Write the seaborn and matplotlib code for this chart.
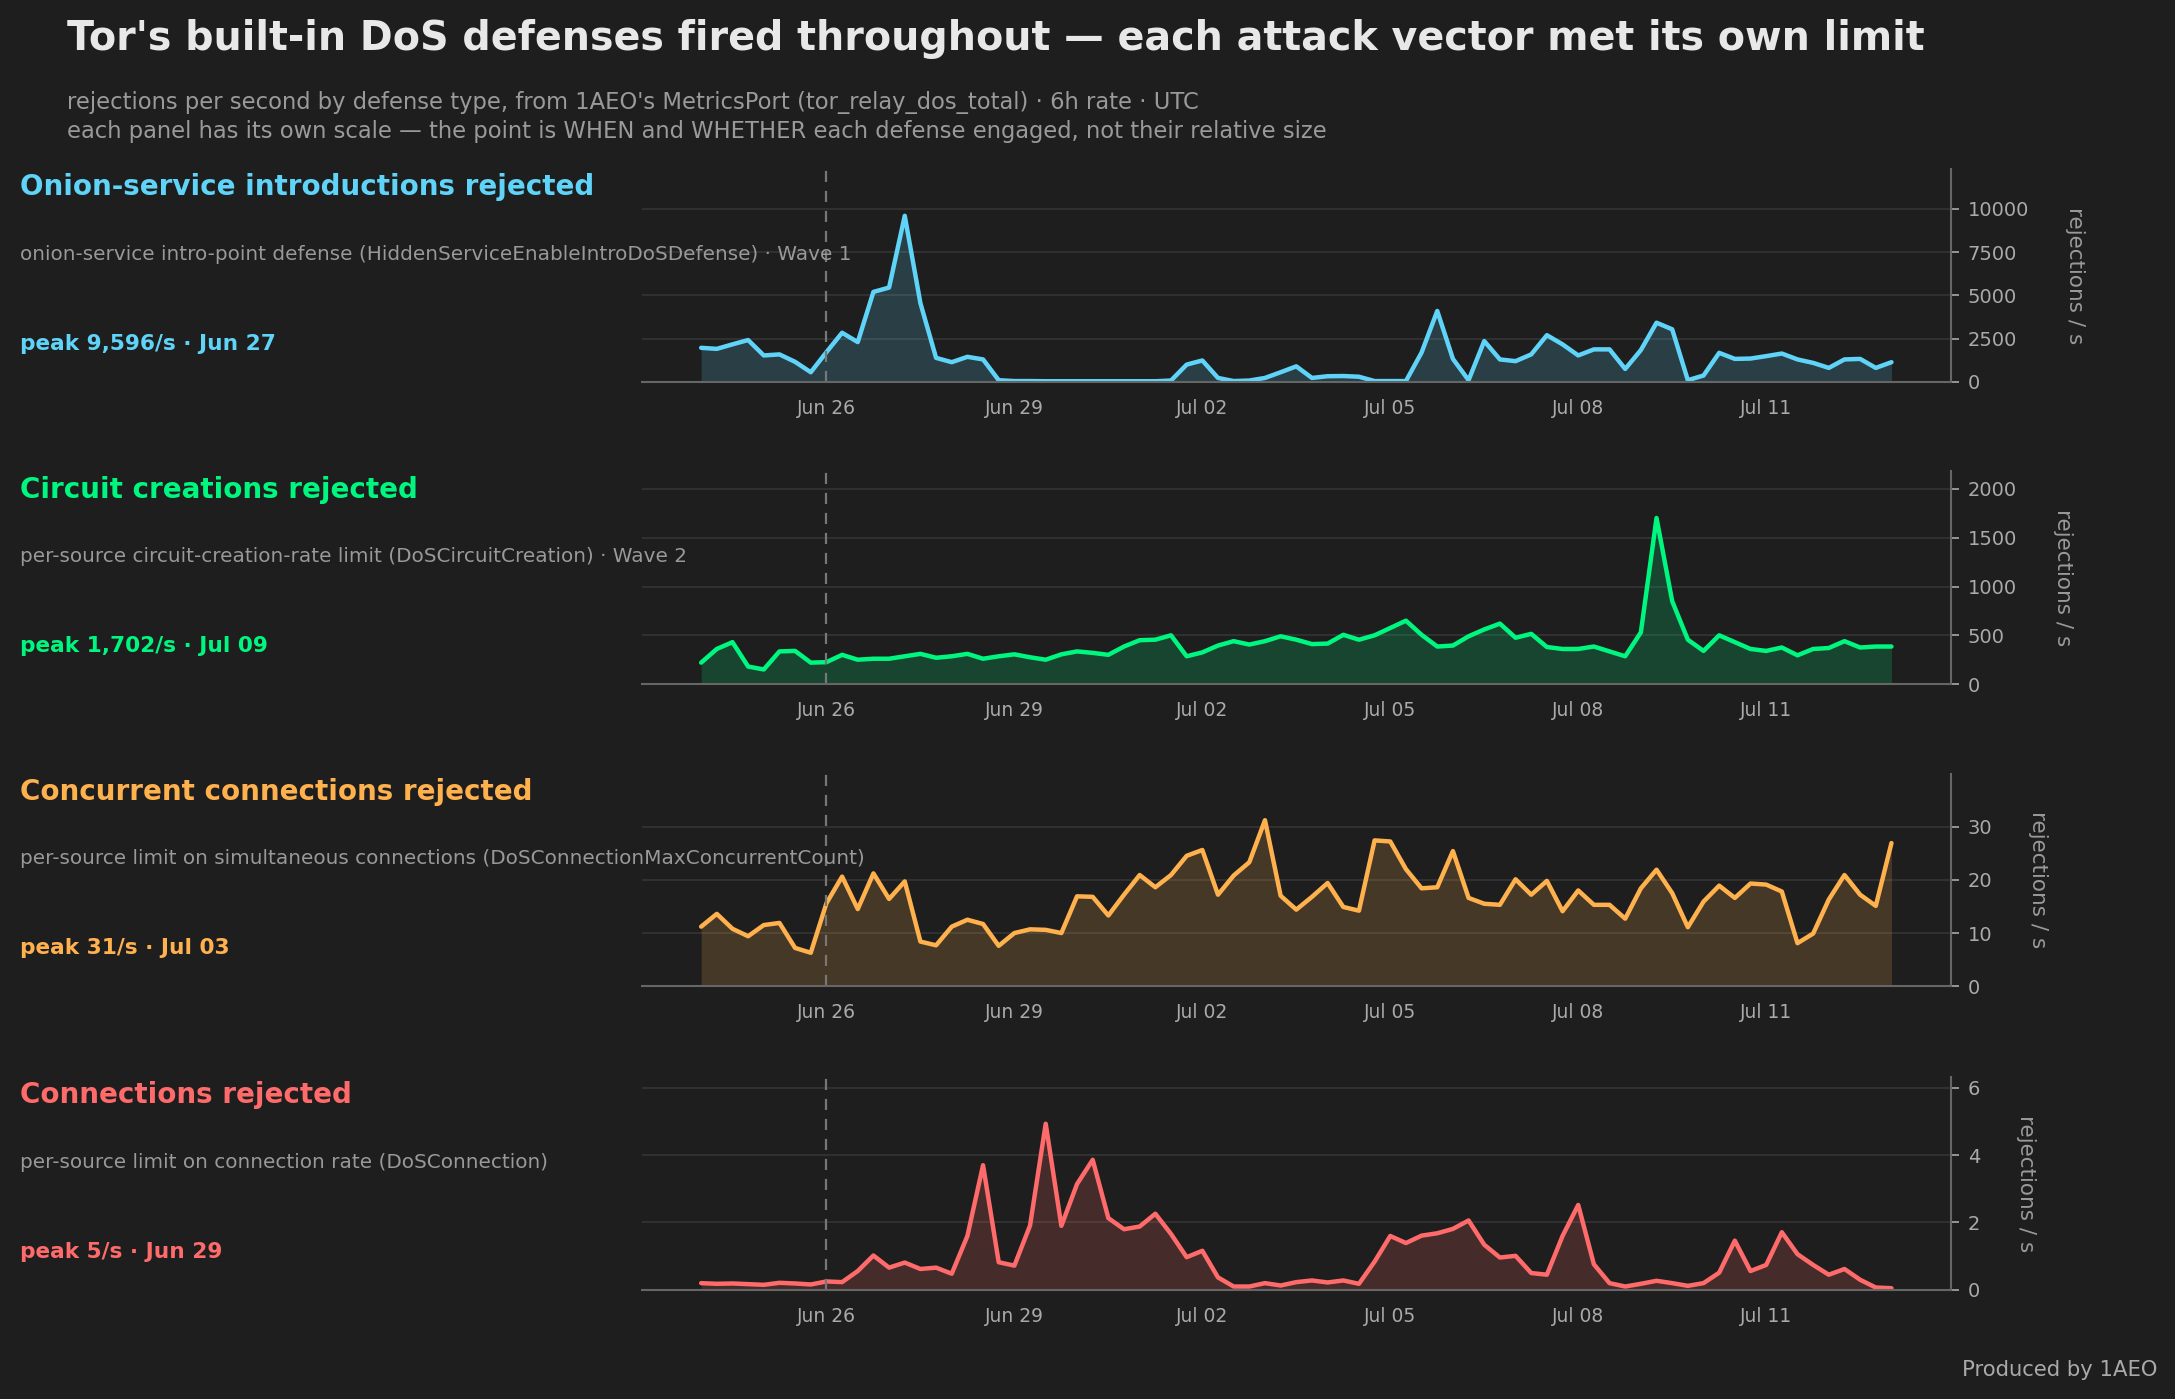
import numpy as np
import pandas as pd
import matplotlib
matplotlib.use("Agg")
import matplotlib.pyplot as plt
import matplotlib.dates as mdates
import matplotlib.transforms as mtrans
from matplotlib.ticker import FuncFormatter
import seaborn as sns

BG = "#1e1e1e"
sns.set_theme(style="dark")
plt.rcParams['font.family'] = ['DejaVu Sans']

timestamps = pd.date_range("2025-06-24 00:00", periods=77, freq="6h")

onion_vals = [1970, 1910, 2170, 2420, 1530, 1590, 1160, 560, 1720, 2840, 2300, 5200, 5450, 9596, 4550,
              1390, 1140, 1450, 1300, 100, 50, 50, 40, 40, 40, 40, 40, 40, 40, 40, 80, 1000, 1240, 230,
              50, 80, 230, 560, 900, 230, 330, 340, 300, 50, 50, 50, 1700, 4100, 1330, 100, 2360, 1300,
              1200, 1590, 2700, 2170, 1530, 1880, 1880, 750, 1840, 3420, 3040, 100, 370, 1680, 1330,
              1350, 1490, 1640, 1300, 1100, 810, 1300, 1330, 810, 1140]
circuit_vals = [220, 360, 430, 180, 150, 335, 340, 220, 225, 300, 250, 260, 260, 285, 310, 270, 285,
                310, 260, 285, 305, 275, 250, 305, 335, 320, 300, 385, 450, 455, 500, 285, 325, 395,
                440, 405, 440, 490, 455, 410, 415, 505, 455, 500, 575, 650, 505, 385, 395, 490, 560,
                620, 475, 515, 380, 360, 360, 385, 335, 285, 530, 1702, 850, 455, 340, 500, 430, 360,
                340, 375, 295, 360, 370, 440, 375, 385, 385]
concurrent_vals = [11.2, 13.6, 10.8, 9.4, 11.5, 11.9, 7.2, 6.3, 15.6, 20.6, 14.5, 21.2, 16.4, 19.7,
                   8.4, 7.7, 11.2, 12.5, 11.7, 7.6, 10.0, 10.7, 10.6, 10.0, 16.9, 16.8, 13.3, 17.2,
                   20.9, 18.6, 20.9, 24.5, 25.6, 17.2, 20.8, 23.3, 31.2, 17.0, 14.4, 16.8, 19.4,
                   14.9, 14.2, 27.4, 27.2, 22.0, 18.4, 18.6, 25.4, 16.6, 15.5, 15.3, 20.1, 17.2,
                   19.8, 14.1, 18.0, 15.3, 15.3, 12.7, 18.4, 21.9, 17.5, 11.1, 15.9, 18.9, 16.6,
                   19.3, 19.1, 17.8, 8.1, 9.9, 16.3, 20.9, 17.2, 15.1, 26.9]
connection_vals = [0.20, 0.18, 0.19, 0.17, 0.15, 0.21, 0.19, 0.16, 0.25, 0.23, 0.56, 1.02, 0.66, 0.81,
                   0.62, 0.66, 0.48, 1.60, 3.70, 0.82, 0.72, 1.91, 4.93, 1.90, 3.14, 3.86, 2.13, 1.80,
                   1.88, 2.26, 1.66, 0.97, 1.16, 0.37, 0.10, 0.10, 0.20, 0.13, 0.23, 0.28, 0.22, 0.28,
                   0.18, 0.84, 1.60, 1.39, 1.61, 1.68, 1.81, 2.06, 1.34, 0.96, 1.01, 0.50, 0.45, 1.60,
                   2.52, 0.76, 0.20, 0.10, 0.18, 0.27, 0.20, 0.12, 0.20, 0.51, 1.46, 0.56, 0.74, 1.71,
                   1.06, 0.74, 0.45, 0.62, 0.30, 0.07, 0.05]

panel_titles = ["Onion-service introductions rejected", "Circuit creations rejected",
                "Concurrent connections rejected", "Connections rejected"]
panel_descs = ["onion-service intro-point defense (HiddenServiceEnableIntroDoSDefense) · Wave 1",
               "per-source circuit-creation-rate limit (DoSCircuitCreation) · Wave 2",
               "per-source limit on simultaneous connections (DoSConnectionMaxConcurrentCount)",
               "per-source limit on connection rate (DoSConnection)"]
peak_labels = ["peak 9,596/s · Jun 27", "peak 1,702/s · Jul 09", "peak 31/s · Jul 03", "peak 5/s · Jun 29"]
colors = ["#5fd4f8", "#00f77f", "#ffb14e", "#ff6b6b"]
event_date = pd.Timestamp("2025-06-26")
tick_dates = pd.date_range("2025-06-26", periods=6, freq="3D")

series = [onion_vals, circuit_vals, concurrent_vals, connection_vals]

fig = plt.figure(figsize=(21.75, 13.99), dpi=100, facecolor=BG)
left, right = 0.295, 0.897
bottoms = [0.727, 0.511, 0.295, 0.078]
h = 0.152

for i, vals in enumerate(series):
    ax = fig.add_axes([left, bottoms[i], right - left, h])
    ax.set_facecolor(BG)
    df = pd.DataFrame({"t": timestamps, "v": vals})
    ax.fill_between(df["t"], 0, df["v"], color=colors[i], alpha=0.18, linewidth=0)
    sns.lineplot(data=df, x="t", y="v", ax=ax, color=colors[i], linewidth=3.2)
    ax.axvline(event_date, color="#777777", linestyle=(0, (5, 4)), linewidth=1.6)
    ax.set_ylim(0, max(vals) * 1.28)
    ax.yaxis.tick_right()
    ax.yaxis.set_label_position("right")
    ax.set_ylabel("rejections / s", color="#999999", fontsize=15.5, rotation=270, labelpad=40)
    ax.set_xlabel("")
    ax.set_xticks(tick_dates)
    ax.xaxis.set_major_formatter(mdates.DateFormatter("%b %d"))
    ax.yaxis.set_major_formatter(FuncFormatter(lambda v, p: f"{v:g}"))
    ax.tick_params(axis="both", colors="#aaaaaa", labelsize=14, length=6, width=1.2, pad=6)
    ax.tick_params(axis="x", labelsize=13.5)
    for s in ["top", "left"]:
        ax.spines[s].set_visible(False)
    for s in ["bottom", "right"]:
        ax.spines[s].set_visible(True)
        ax.spines[s].set_color("#666666")
        ax.spines[s].set_linewidth(1.5)
    ax.grid(axis="y", color="#333333", linewidth=1.3)
    ax.grid(axis="x", visible=False)
    ax.set_axisbelow(True)

    tr = mtrans.blended_transform_factory(fig.transFigure, ax.transAxes)
    ax.text(0.009, 0.915, panel_titles[i], transform=tr, color=colors[i], fontsize=20,
            fontweight="bold", va="center", ha="left")
    ax.text(0.009, 0.60, panel_descs[i], transform=tr, color="#999999", fontsize=14.4,
            va="center", ha="left")
    ax.text(0.009, 0.18, peak_labels[i], transform=tr, color=colors[i], fontsize=15.6,
            fontweight="bold", va="center", ha="left")

fig.text(0.0306, 0.972, "Tor's built-in DoS defenses fired throughout — each attack vector met its own limit",
         color="#e8e8e8", fontsize=28.5, fontweight="bold", va="center", ha="left")
fig.text(0.0306, 0.927, "rejections per second by defense type, from 1AEO's MetricsPort (tor_relay_dos_total) · 6h rate · UTC",
         color="#9a9a9a", fontsize=16.3, va="center", ha="left")
fig.text(0.0306, 0.906, "each panel has its own scale — the point is WHEN and WHETHER each defense engaged, not their relative size",
         color="#9a9a9a", fontsize=16.3, va="center", ha="left")
fig.text(0.992, 0.021, "Produced by 1AEO", color="#aaaaaa", fontsize=15.2, ha="right", va="center")

fig.savefig("out.png", dpi=100, facecolor=BG)
